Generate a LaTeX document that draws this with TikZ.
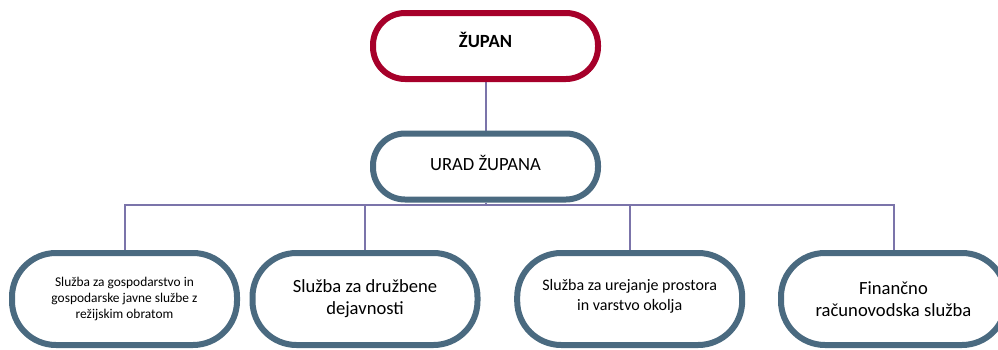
\documentclass[tikz,border=0pt]{standalone}
\usepackage{fontspec}
\setmainfont{Carlito}
\usepackage{xcolor}
\usepackage{tikz}
\usetikzlibrary{positioning}
\pgfdeclarelayer{nodelayer}
\pgfdeclarelayer{edgelayer}
\pgfsetlayers{edgelayer,nodelayer,main}
\definecolor{zupanred}{HTML}{A6002A}
\definecolor{uradblue}{HTML}{4A6A80}
\definecolor{linkviolet}{HTML}{7B74AA}
\tikzset{
    headbox/.style={rectangle, rounded corners=16pt, draw=zupanred, line width=3pt, fill=white,
        minimum width=112.5pt, minimum height=33pt, text depth=6pt, font=\fontsize{9.3}{11}\selectfont\bfseries},
    officebox/.style={headbox, draw=uradblue, text depth=4pt, font=\fontsize{9.3}{11}\selectfont},
    unitbox/.style={rectangle, rounded corners=22pt, draw=uradblue, line width=3pt, fill=white,
        minimum width=112.5pt, minimum height=46pt, align=center, font=\fontsize{9.3}{11}\selectfont},
    link/.style={draw=linkviolet, line width=1pt}
}

\begin{document}
\begin{tikzpicture}[x=0.5pt, y=-0.5pt]
        \useasboundingbox (0, 0) rectangle (998, 349);
        \begin{pgfonlayer}{nodelayer}
            \node [headbox] (zupan) at (485.5, 46) {ŽUPAN};
            \node [officebox] (urad) at (485.5, 166.5) {URAD ŽUPANA};
            \node [unitbox, font=\fontsize{6.7}{8}\selectfont] (s1) at (124.5, 299) {Služba za gospodarstvo in\\gospodarske javne službe z\\režijskim obratom};
            \node [unitbox] (s2) at (365, 299) {Služba za družbene\\dejavnosti};
            \node [unitbox, font=\fontsize{8}{10}\selectfont] (s3) at (629.7, 299) {Služba za urejanje prostora\\in varstvo okolja\\[-6pt]\mbox{}};
            \node [unitbox] (s4) at (893.5, 299) {Finančno\\računovodska služba};
            \coordinate (bus) at (485.5, 204.5);
        \end{pgfonlayer}
        \begin{pgfonlayer}{edgelayer}
            \draw [link] (zupan.south) to (urad.north);
            \draw [link] (urad.south) to (bus);
            \draw [link] (s1.north) to (s1.north |- bus) to (s4.north |- bus) to (s4.north);
            \draw [link] (s2.north) to (s2.north |- bus);
            \draw [link] (s3.north) to (s3.north |- bus);
        \end{pgfonlayer}
    \end{tikzpicture}
\end{document}
